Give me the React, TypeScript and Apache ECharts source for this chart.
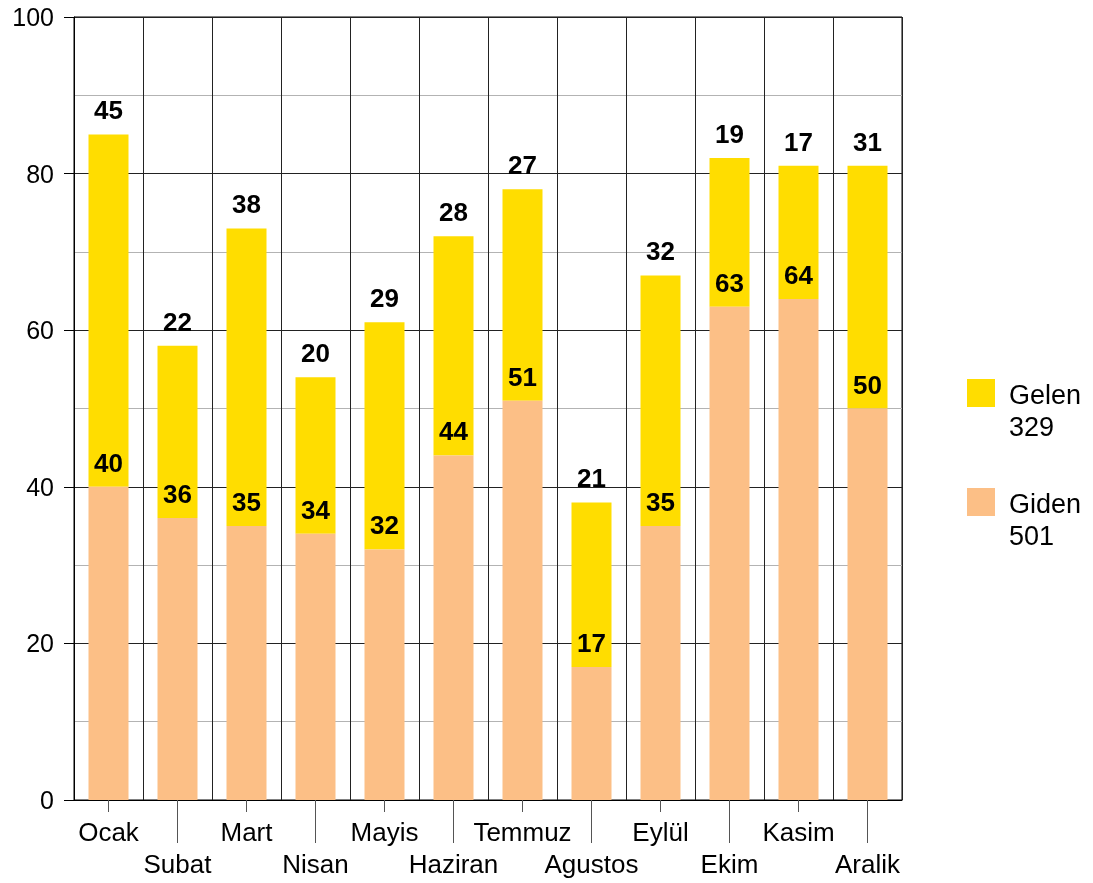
import React, { useEffect, useRef } from "react";
import * as echarts from "echarts";

const months = ["Ocak", "Subat", "Mart", "Nisan", "Mayis", "Haziran", "Temmuz", "Agustos", "Eylül", "Ekim", "Kasim", "Aralik"];
const giden = [40, 36, 35, 34, 32, 44, 51, 17, 35, 63, 64, 50];
const gelen = [45, 22, 38, 20, 29, 28, 27, 21, 32, 19, 17, 31];
const yTicks = [0, 20, 40, 60, 80, 100];

const YELLOW = "#FFDD00";
const PEACH = "#FCBF86";
const FONT = "Liberation Sans, Arial, sans-serif";

export default function App() {
  const ref = useRef<HTMLDivElement>(null);
  useEffect(() => {
    if (!ref.current) return;
    const chart = echarts.init(ref.current, null, { renderer: "svg" });
    const sum = (a: number[]) => a.reduce((s, v) => s + v, 0);
    const labelStyle = {
      show: true,
      position: "top" as const,
      distance: 11,
      fontFamily: FONT,
      fontSize: 26,
      fontWeight: "bold" as const,
      color: "#000",
    };
    const legendItems = [
      { name: "Gelen", color: YELLOW, total: sum(gelen), top: 379 },
      { name: "Giden", color: PEACH, total: sum(giden), top: 488 },
    ];
    const graphic: any[] = [];
    legendItems.forEach((it) => {
      graphic.push({
        type: "rect",
        left: 967,
        top: it.top,
        shape: { width: 28, height: 28 },
        style: { fill: it.color },
      });
      graphic.push({
        type: "text",
        left: 1009,
        top: it.top,
        style: {
          text: it.name + "\n" + it.total,
          fontFamily: FONT,
          fontSize: 27,
          lineHeight: 32,
          fill: "#000",
        },
      });
    });
    chart.setOption({
      animation: false,
      textStyle: { fontFamily: FONT },
      grid: { left: 74, top: 17, width: 828, height: 783, show: true, borderColor: "#000", borderWidth: 1, containLabel: false },
      xAxis: [
        {
          type: "category",
          data: months,
          axisLine: { lineStyle: { color: "#000", width: 1 } },
          axisTick: { show: true, alignWithLabel: true, length: 12, interval: (i: number) => i % 2 === 0, lineStyle: { color: "#555" } },
          splitLine: { show: true, interval: 0, lineStyle: { color: "#222", width: 1 } },
          axisLabel: {
            interval: 0,
            fontFamily: FONT,
            fontSize: 26,
            lineHeight: 32,
            color: "#000",
            margin: 16,
            formatter: (v: string, i: number) => (i % 2 === 1 ? "\n" + v : v),
          },
        },
        {
          type: "category",
          data: months,
          position: "bottom",
          axisLine: { show: false },
          axisTick: { show: true, alignWithLabel: true, length: 43, interval: (i: number) => i % 2 === 1, lineStyle: { color: "#555" } },
          axisLabel: { show: false },
          splitLine: { show: false },
        },
      ],
      yAxis: {
        type: "value",
        min: 0,
        max: 100,
        interval: 20,
        axisLine: { show: true, lineStyle: { color: "#000" } },
        axisTick: { show: true, length: 10, lineStyle: { color: "#000" } },
        axisLabel: {
          fontFamily: FONT,
          fontSize: 25,
          color: "#000",
          margin: 20,
          formatter: (v: number) => (yTicks.includes(v) ? String(v) : ""),
        },
        splitLine: { show: true, lineStyle: { color: "#222", width: 1 } },
        minorTick: { show: false, splitNumber: 2 },
        minorSplitLine: { show: true, lineStyle: { color: "#b3b3b3", width: 1 } },
      },
      series: [
        {
          name: "Giden",
          type: "bar",
          stack: "total",
          data: giden,
          barWidth: 40,
          itemStyle: { color: PEACH },
          label: labelStyle,
          z: 3,
        },
        {
          name: "Gelen",
          type: "bar",
          stack: "total",
          data: gelen,
          barWidth: 40,
          itemStyle: { color: YELLOW },
          label: labelStyle,
          z: 2,
        },
      ],
      graphic,
    });
    return () => chart.dispose();
  }, []);
  return <div ref={ref} style={{ position: "fixed", left: 0, top: 0, width: 1093, height: 883 }} />;
}
